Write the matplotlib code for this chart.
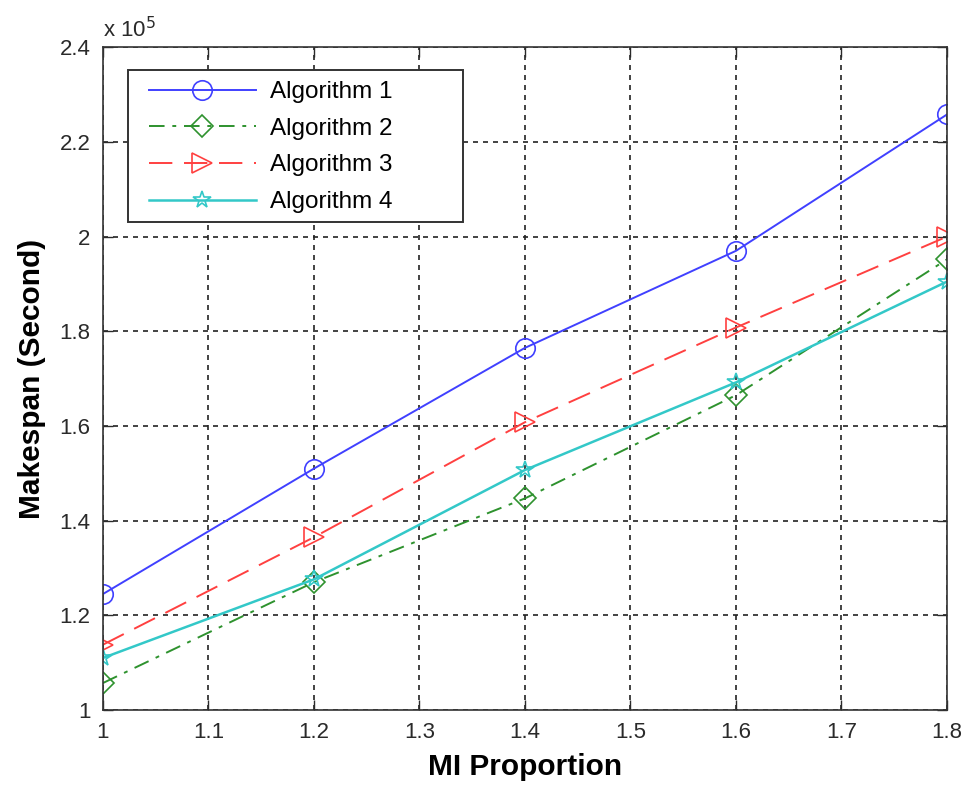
import matplotlib
matplotlib.use("Agg")
import matplotlib.pyplot as plt
from matplotlib.patches import Rectangle
from matplotlib.ticker import FuncFormatter, MultipleLocator

plt.rcParams['font.family'] = ['Liberation Sans', 'DejaVu Sans']

mi_proportion = [1.0, 1.2, 1.4, 1.6, 1.8]
alg1 = [1.245e5, 1.510e5, 1.765e5, 1.970e5, 2.258e5]
alg2 = [1.057e5, 1.270e5, 1.447e5, 1.665e5, 1.952e5]
alg3 = [1.138e5, 1.365e5, 1.608e5, 1.808e5, 2.000e5]
alg4 = [1.110e5, 1.276e5, 1.507e5, 1.692e5, 1.905e5]
labels = ['Algorithm 1', 'Algorithm 2', 'Algorithm 3', 'Algorithm 4']

fig = plt.figure(figsize=(9.66, 7.88), dpi=100)
ax = fig.add_axes([0.1066, 0.099, 0.8737, 0.841])

ax.plot(mi_proportion, alg1, color='#4040ff', linestyle='-', marker='o', markersize=14,
        markerfacecolor='none', markeredgewidth=1.2, linewidth=1.4, label=labels[0])
ax.plot(mi_proportion, alg2, color='#2e922e', linestyle=(0, (8, 4, 2, 4)), marker='D', markersize=11,
        markerfacecolor='none', markeredgewidth=1.2, linewidth=1.4, label=labels[1])
ax.plot(mi_proportion, alg3, color='#ff4040', linestyle=(0, (12, 6)), marker='>', markersize=14,
        markerfacecolor='none', markeredgewidth=1.2, linewidth=1.4, label=labels[2])
ax.plot(mi_proportion, alg4, color='#33c8c8', linestyle='-', marker='*', markersize=13,
        markerfacecolor='none', markeredgewidth=1.2, linewidth=1.8, label=labels[3])

ax.set_xlim(1.0, 1.8)
ax.set_ylim(1.0e5, 2.4e5)
ax.xaxis.set_major_locator(MultipleLocator(0.1))
ax.yaxis.set_major_locator(MultipleLocator(0.2e5))
ax.xaxis.set_major_formatter(FuncFormatter(lambda v, p: f"{v:g}"))
ax.yaxis.set_major_formatter(FuncFormatter(lambda v, p: f"{round(v / 1e5, 2):g}"))

ax.grid(True, color='#222222', linestyle=(0, (3, 3)), linewidth=1.2)
ax.tick_params(direction='in', top=True, right=True, length=7, width=1.0,
               labelsize=16, colors='#2a2a2a', pad=9)
for s in ax.spines.values():
    s.set_linewidth(1.2)
    s.set_color('#333333')

ax.set_xlabel('MI Proportion', fontsize=21.5, fontweight='bold', labelpad=7)
ax.set_ylabel('Makespan (Second)', fontsize=21.5, fontweight='bold', labelpad=10)
ax.text(0.0, 1.007, r'x 10$^5$', transform=ax.transAxes, fontsize=16, color='#2a2a2a',
        ha='left', va='bottom')

# legend box (MATLAB-style, with extra right margin)
ax.add_patch(Rectangle((0.0296, 0.736), 0.397, 0.2293, transform=ax.transAxes,
                       facecolor='white', edgecolor='#333333', linewidth=1.4, zorder=4))
leg = ax.legend(loc='upper left', bbox_to_anchor=(0.0415, 0.9653), fontsize=17.5,
                frameon=False, handlelength=4.4, borderpad=0.45, labelspacing=0.6,
                handletextpad=0.58, borderaxespad=0)
leg.set_zorder(5)

fig.savefig('out.png', dpi=100)
